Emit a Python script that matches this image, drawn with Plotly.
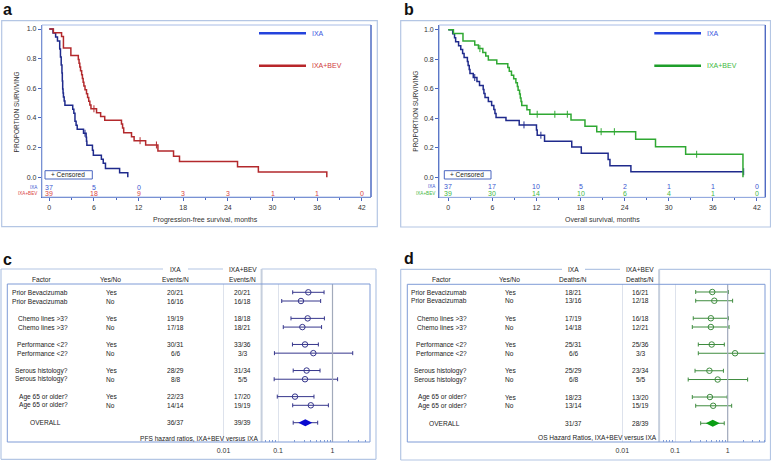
import math
import plotly.graph_objects as go

W, H = 771, 461
FONT = "Liberation Sans, Arial, Helvetica, sans-serif"

# ---------------- Kaplan-Meier data ----------------
pfs_ixa_t = [0, 0.5, 0.85, 1.1, 1.4, 1.5, 1.6, 1.7, 1.75, 1.8, 1.85, 1.9, 2.0, 2.1,
             3.15, 3.3, 3.45, 3.6, 3.75, 4.6, 4.95, 5.0, 5.05, 5.8, 5.92, 7.0, 7.25, 7.55, 9.45, 10.55]
pfs_ixa_s = [1.0, 0.973, 0.946, 0.919, 0.865, 0.811, 0.757, 0.703, 0.649, 0.595, 0.568, 0.541, 0.514, 0.486,
             0.459, 0.432, 0.378, 0.351, 0.324, 0.297, 0.27, 0.243, 0.216, 0.182, 0.149, 0.122, 0.095, 0.06, 0.03, 0.0]
pfs_ixa_cens = [4.8]

pfs_bev_t = [0, 0.55, 1.65, 1.9, 2.9, 3.9, 4.0, 4.1, 4.2, 4.35, 4.45, 4.55, 4.65, 4.8, 5.0, 5.15, 5.3,
             5.45, 5.6, 6.35, 6.9, 7.45, 9.7, 9.85, 10.0, 11.05, 11.4, 12.95, 14.6, 16.7, 17.5, 25.3, 28.1, 37.3]
pfs_bev_s = [1.0, 0.974, 0.949, 0.872, 0.821, 0.795, 0.769, 0.744, 0.718, 0.692, 0.667, 0.641, 0.615, 0.590,
             0.564, 0.538, 0.513, 0.487, 0.462, 0.436, 0.41, 0.385, 0.359, 0.333, 0.30, 0.274, 0.247, 0.218,
             0.178, 0.142, 0.106, 0.071, 0.035, 0.0]
pfs_bev_cens = [6.0, 12.2, 14.4]

os_ixa_t = [0, 0.6, 0.85, 1.0, 1.4, 1.7, 1.95, 2.15, 2.6, 2.7, 2.85, 2.95, 3.4, 3.9, 4.25, 4.75, 4.85, 5.0,
            5.45, 5.9, 6.2, 6.35, 6.5, 7.85, 9.65, 12.0, 12.1, 13.1, 16.8, 18.1, 21.75, 22.0, 24.85]
os_ixa_s = [1.0, 0.973, 0.946, 0.919, 0.892, 0.865, 0.838, 0.811, 0.784, 0.757, 0.730, 0.703, 0.676, 0.649,
            0.622, 0.595, 0.568, 0.541, 0.514, 0.486, 0.459, 0.432, 0.405, 0.385, 0.355, 0.32, 0.285, 0.245,
            0.205, 0.163, 0.12, 0.079, 0.038]
os_ixa_last = 40.2
os_ixa_cens = [3.6, 10.3, 12.6, 40.2]

os_bev_t = [0, 0.7, 2.0, 3.6, 4.1, 4.7, 5.1, 5.45, 6.6, 8.1, 8.3, 8.6, 8.9, 9.2, 9.4, 9.5, 9.7, 9.8, 9.9,
            10.0, 10.7, 11.1, 16.7, 18.6, 20.2, 25.5, 28.2, 32.3, 40.1]
os_bev_s = [1.0, 0.974, 0.923, 0.897, 0.872, 0.846, 0.821, 0.795, 0.769, 0.744, 0.718, 0.692, 0.667, 0.641,
            0.615, 0.59, 0.564, 0.538, 0.513, 0.487, 0.457, 0.427, 0.388, 0.346, 0.309, 0.257, 0.207, 0.156, 0.0]
os_bev_cens = [4.3, 12.1, 14.5, 16.2, 20.8, 22.6, 33.8]

risk_times = [0, 6, 12, 18, 24, 30, 36, 42]
pfs_risk_ixa = [37, 5, 0]
pfs_risk_bev = [39, 18, 9, 3, 3, 1, 1, 0]
os_risk_ixa = [37, 17, 10, 5, 2, 1, 1, 0]
os_risk_bev = [39, 30, 14, 10, 6, 4, 1, 0]

# ---------------- Forest plot data ----------------
factors = ["Prior Bevacizumab", "Prior Bevacizumab", "Chemo lines >3?", "Chemo lines >3?",
           "Performance <2?", "Performance <2?", "Serous histology?", "Serous histology?",
           "Age 65 or older?", "Age 65 or older?", "OVERALL"]
yes_no = ["Yes", "No", "Yes", "No", "Yes", "No", "Yes", "No", "Yes", "No", ""]

pfs_ixa_events = ["20/21", "16/16", "19/19", "17/18", "30/31", "6/6", "28/29", "8/8", "22/23", "14/14", "36/37"]
pfs_bev_events = ["20/21", "16/18", "18/18", "18/21", "33/36", "3/3", "31/34", "5/5", "17/20", "19/19", "39/39"]
pfs_hr = [0.36, 0.264, 0.35, 0.28, 0.313, 0.445, 0.335, 0.313, 0.205, 0.40, 0.317]
pfs_lo = [0.186, 0.117, 0.173, 0.125, 0.184, 0.086, 0.19, 0.085, 0.097, 0.186, 0.19]
pfs_hi = [0.70, 0.606, 0.71, 0.63, 0.55, 2.35, 0.59, 1.24, 0.457, 0.84, 0.535]

os_ixa_deaths = ["18/21", "13/16", "17/19", "14/18", "25/31", "6/6", "25/29", "6/8", "18/23", "13/14", "31/37"]
os_bev_deaths = ["16/21", "12/18", "16/18", "12/21", "25/36", "3/3", "23/34", "5/5", "13/20", "15/19", "28/39"]
os_hr = [0.51, 0.557, 0.48, 0.48, 0.497, 1.38, 0.45, 0.645, 0.46, 0.53, 0.52]
os_lo = [0.247, 0.247, 0.222, 0.213, 0.277, 0.277, 0.24, 0.178, 0.213, 0.247, 0.307]
os_hi = [1.03, 1.24, 1.03, 1.06, 0.863, 6.0, 0.83, 2.39, 0.98, 1.19, 0.86]

hr_ticks = [0.01, 0.1, 1]
hr_separator = 0.05

# row positions: pairs separated by a blank row, overall last
rows = [i + i // 2 for i in range(len(factors) - 1)] + [(len(factors) - 1) * 3 // 2]

# ---------------- helpers ----------------
AX_BLUE = "#4a66c0"
FRAME = "#b4c6e4"
BOX = "#7f9bd6"
TXT = "#222222"

fig = go.Figure()
shapes = []
anns = []


def P(x):
    return x / W


def Q(y):
    return 1 - y / H


def seg(x0, y0, x1, y1, color, width=1):
    shapes.append(dict(type="line", xref="paper", yref="paper", x0=P(x0), y0=Q(y0), x1=P(x1), y1=Q(y1),
                       line=dict(color=color, width=width)))


def rect(x0, y0, x1, y1, color, width=1, fill=None):
    d = dict(type="rect", xref="paper", yref="paper", x0=P(x0), y0=Q(y0), x1=P(x1), y1=Q(y1),
             line=dict(color=color, width=width))
    if fill:
        d["fillcolor"] = fill
    shapes.append(d)


def txt(x, y, s, size=6.6, color=TXT, xa="center", ya="middle", xref="paper", yref="paper",
        angle=0, bold=False):
    if xref == "paper":
        x = P(x)
    if yref == "paper":
        y = Q(y)
    anns.append(dict(x=x, y=y, xref=xref, yref=yref, text=("<b>%s</b>" % s if bold else s), showarrow=False,
                     xanchor=xa, yanchor=ya, textangle=angle,
                     font=dict(family=FONT, size=size, color=color)))


def step_val(ts, ss, t):
    v = ss[0]
    for ti, si in zip(ts, ss):
        if ti <= t:
            v = si
    return v


# ---------------- Kaplan-Meier panels ----------------
km_panels = [
    dict(ax="", xdom=(42, 371), ydom=(25, 197), xr=[-0.981, 43.24], yr=[-0.1328, 1.027],
         frame=(1.7, 20.7, 377.3, 226.7), letter="a", letter_x=1,
         curves=[(pfs_ixa_t, pfs_ixa_s, None, pfs_ixa_cens, "#1f2a8c"),
                 (pfs_bev_t, pfs_bev_s, None, pfs_bev_cens, "#b3292c")],
         risk=[(pfs_risk_ixa, "#3b57d0"), (pfs_risk_bev, "#d9443f")],
         risk_y=[-0.0654, -0.111], label_right=40,
         legend=(259, 306, 310, "#2443dc", "#b8262a", "#3a55e0", "#d03c3c"),
         cbox=(45, 170.7, 92.3, 179),
         xtitle="Progression-free survival, months", xtitle_x=205.5, ytitle_x=16.7),
    dict(ax="2", xdom=(439.3, 765.3), ydom=(25, 197.3), xr=[-1.223, 43.14], yr=[-0.1355, 1.0318],
         frame=(400.7, 20.7, 770.5, 227), letter="b", letter_x=401.5,
         curves=[(os_ixa_t, os_ixa_s, os_ixa_last, os_ixa_cens, "#1f2a8c"),
                 (os_bev_t, os_bev_s, None, os_bev_cens, "#2fa832")],
         risk=[(os_risk_ixa, "#3b57d0"), (os_risk_bev, "#45b845")],
         risk_y=[-0.0637, -0.113], label_right=438.3,
         legend=(654.3, 701, 705, "#2443dc", "#1e9e2a", "#3a55e0", "#3db83d"),
         cbox=(444.3, 170.7, 491, 179),
         xtitle="Overall survival, months", xtitle_x=602, ytitle_x=416),
]

layout_axes = {}
for pnl in km_panels:
    a = pnl["ax"]
    xa, ya = "x" + a, "y" + a
    rect(*pnl["frame"], FRAME, 1.2)
    rect(pnl["xdom"][0], pnl["ydom"][0], pnl["xdom"][1], pnl["ydom"][1], "#a8bce6", 1)
    seg(pnl["xdom"][1], pnl["ydom"][0], pnl["xdom"][1], pnl["ydom"][1], AX_BLUE, 1.3)
    for (ts, ss, last, cens, col) in pnl["curves"]:
        xs = list(ts) + ([last] if last is not None else [])
        ys = list(ss) + ([ss[-1]] if last is not None else [])
        fig.add_trace(go.Scatter(x=xs, y=ys, mode="lines", xaxis=xa, yaxis=ya,
                                 line=dict(shape="hv", color=col, width=1.5), hoverinfo="skip"))
        fig.add_trace(go.Scatter(x=cens, y=[step_val(ts, ss, c) for c in cens], mode="markers",
                                 xaxis=xa, yaxis=ya,
                                 marker=dict(symbol="line-ns", size=5, color=col, line=dict(width=1, color=col)),
                                 hoverinfo="skip"))
    names = ["IXA", "IXA+BEV"]
    for k, (vals, col) in enumerate(pnl["risk"]):
        for t, v in zip(risk_times, vals):
            txt(t, pnl["risk_y"][k], str(v), size=7, color=col, xref=xa, yref=ya)
        txt(pnl["label_right"], pnl["risk_y"][k], names[k], size=4.6, color=col, xa="right",
            xref="paper", yref=ya)
    lx0, lx1, ltx, c1, c2, t1, t2 = pnl["legend"]
    seg(lx0, 33.2, lx1, 33.2, c1, 2.6)
    seg(lx0, 65.7, lx1, 65.7, c2, 2.6)
    txt(ltx, 33.2, "IXA", size=7, color=t1, xa="left")
    txt(ltx, 65.7, "IXA+BEV", size=7, color=t2, xa="left")
    bx0, by0, bx1, by1 = pnl["cbox"]
    rect(bx0, by0, bx1, by1, AX_BLUE, 1, fill="white")
    txt(bx0 + 4, (by0 + by1) / 2, "+ Censored", size=6.5, xa="left")
    txt(pnl["xtitle_x"], 220, pnl["xtitle"], size=7, color="#333")
    txt(pnl["ytitle_x"], 111.7, "PROPORTION SURVIVING", size=6.5, color="#333", angle=-90)
    txt(pnl["letter_x"], 10, pnl["letter"], size=16, color="#111", xa="left", bold=True)

    layout_axes["xaxis" + a] = dict(
        domain=[P(pnl["xdom"][0]), P(pnl["xdom"][1])], range=pnl["xr"], anchor=ya,
        tickmode="array", tickvals=risk_times, ticks="outside", ticklen=3, tickcolor=AX_BLUE,
        showline=True, linecolor=AX_BLUE, linewidth=1.3, showgrid=False, zeroline=False,
        tickfont=dict(family=FONT, size=7, color="#333"),
        minor=dict(tickmode="array", tickvals=[t + 3 for t in risk_times[:-1]], ticks="outside",
                   ticklen=2, tickcolor=AX_BLUE, showgrid=False))
    layout_axes["yaxis" + a] = dict(
        domain=[Q(pnl["ydom"][1]), Q(pnl["ydom"][0])], range=pnl["yr"], anchor=xa,
        tickmode="array", tickvals=[0, 0.2, 0.4, 0.6, 0.8, 1.0], tickformat=".1f",
        ticks="outside", ticklen=3, tickcolor=AX_BLUE, showline=True, linecolor=AX_BLUE, linewidth=1.3,
        showgrid=False, zeroline=False, tickfont=dict(family=FONT, size=7, color="#333"))

# ---------------- Forest panels ----------------
forest_panels = [
    dict(ax="3", inner=(7.3, 284, 370, 442), outer=(1, 269, 376, 459.3),
         top=[(1, 163), (188, 223)], xr=[-5.967, 0.688], yr=[17.22, -0.955],
         fac_r=70, ov_c=45, yn_l=104.3, c1=175.7, c2=242.7, h_fac=41, h_yn=110,
         title="PFS hazard ratios, IXA+BEV versus IXA", title_x=199, title_y=438.3,
         col1=pfs_ixa_events, col2=pfs_bev_events, sub="Events/N",
         hr=pfs_hr, lo=pfs_lo, hi=pfs_hi, ci="#36368c", dia="#0a0ad0", letter="c", letter_x=1, letter_y=259.3),
    dict(ax="4", inner=(407.3, 284.3, 765, 442), outer=(400.7, 269.3, 770.5, 460),
         top=[(400.7, 562), (585, 620)], xr=[-6.08, 0.708], yr=[17.14, -0.88],
         fac_r=469.3, ov_c=445, yn_l=503.3, c1=573.3, c2=640, h_fac=441.7, h_yn=509,
         title="OS Hazard Ratios, IXA+BEV versus IXA", title_x=597.7, title_y=437.7,
         col1=os_ixa_deaths, col2=os_bev_deaths, sub="Deaths/N",
         hr=os_hr, lo=os_lo, hi=os_hi, ci="#3f8c3f", dia="#0a9e14", letter="d", letter_x=401.5, letter_y=258.3),
]

for pnl in forest_panels:
    a = pnl["ax"]
    xa, ya = "x" + a, "y" + a
    ix0, iy0, ix1, iy1 = pnl["inner"]
    ox0, oy0, ox1, oy1 = pnl["outer"]

    def hr_px(v, pnl=pnl):
        r0, r1 = pnl["xr"]
        f = (math.log10(v) - r0) / (r1 - r0)
        return pnl["inner"][0] + f * (pnl["inner"][2] - pnl["inner"][0])

    seg(ox0, oy0, ox0, oy1, FRAME, 1.2)
    seg(ox1, oy0, ox1, oy1, FRAME, 1.2)
    seg(ox0, oy1, ox1, oy1, FRAME, 1.2)
    for (s0, s1) in pnl["top"]:
        seg(s0, oy0, s1, oy0, FRAME, 1.2)
    sep = hr_px(hr_separator)
    seg(sep, oy0, ox1, oy0, FRAME, 1.2)
    seg(sep, oy0, sep, iy1, "#c6cfdd", 2)
    seg(hr_px(1), iy0, hr_px(1), iy1, "#a2aabb", 1.2)
    rect(ix0, iy0, ix1, iy1, BOX, 1)

    txt(pnl["c1"], oy0, "IXA", size=6.6)
    txt(pnl["c2"], oy0, "IXA+BEV", size=6.6)
    txt(pnl["h_fac"], 279, "Factor")
    txt(pnl["h_yn"], 279, "Yes/No")
    txt(pnl["c1"], 279, pnl["sub"])
    txt(pnl["c2"], 279, pnl["sub"])

    for i, r in enumerate(rows):
        if factors[i] == "OVERALL":
            txt(pnl["ov_c"], r, factors[i], yref=ya)
        else:
            txt(pnl["fac_r"], r, factors[i], xa="right", yref=ya)
        if yes_no[i]:
            txt(pnl["yn_l"], r, yes_no[i], xa="left", yref=ya)
        txt(pnl["c1"], r, pnl["col1"][i], yref=ya)
        txt(pnl["c2"], r, pnl["col2"][i], yref=ya)

    txt(pnl["title_x"], pnl["title_y"], pnl["title"], size=6.6)
    txt(pnl["letter_x"], pnl["letter_y"], pnl["letter"], size=16, color="#111", xa="left", bold=True)

    n = len(rows) - 1
    hr, lo, hi = pnl["hr"], pnl["lo"], pnl["hi"]
    fig.add_trace(go.Scatter(
        x=hr[:n], y=rows[:n], mode="markers", xaxis=xa, yaxis=ya, hoverinfo="skip",
        marker=dict(symbol="circle-open", size=5.5, color=pnl["ci"], line=dict(width=1, color=pnl["ci"])),
        error_x=dict(type="data", symmetric=False, array=[h - e for h, e in zip(hi[:n], hr[:n])],
                     arrayminus=[e - l for e, l in zip(hr[:n], lo[:n])], color=pnl["ci"], thickness=1, width=2)))
    fig.add_trace(go.Scatter(
        x=hr[n:], y=rows[n:], mode="markers", xaxis=xa, yaxis=ya, hoverinfo="skip",
        marker=dict(symbol="diamond-wide", size=10, color=pnl["dia"], line=dict(width=0)),
        error_x=dict(type="data", symmetric=False, array=[h - e for h, e in zip(hi[n:], hr[n:])],
                     arrayminus=[e - l for e, l in zip(hr[n:], lo[n:])], color=pnl["ci"], thickness=1, width=2)))

    minor_vals = [k * 0.01 for k in range(6, 10)] + [k * 0.1 for k in range(2, 10)] + [2, 3, 4, 5]
    layout_axes["xaxis" + a] = dict(
        type="log", domain=[P(ix0), P(ix1)], range=pnl["xr"], anchor=ya,
        tickmode="array", tickvals=hr_ticks, ticktext=[str(v) for v in hr_ticks],
        ticks="", showline=False, showgrid=True, gridcolor="#dde2ec", gridwidth=1, zeroline=False,
        tickfont=dict(family=FONT, size=7, color="#333"), ticklabelstandoff=3,
        minor=dict(tickmode="array", tickvals=minor_vals, ticks="inside", ticklen=2,
                   tickcolor=BOX, showgrid=False))
    layout_axes["yaxis" + a] = dict(
        domain=[Q(iy1), Q(iy0)], range=pnl["yr"], anchor=xa, visible=False)

fig.update_layout(
    width=W, height=H, margin=dict(l=0, r=0, t=0, b=0),
    paper_bgcolor="white", plot_bgcolor="white", showlegend=False,
    shapes=shapes, annotations=anns, **layout_axes)

fig.write_html("out.html", config={"displayModeBar": False},
               post_script="document.body.style.margin='0';document.body.style.overflow='hidden';")
